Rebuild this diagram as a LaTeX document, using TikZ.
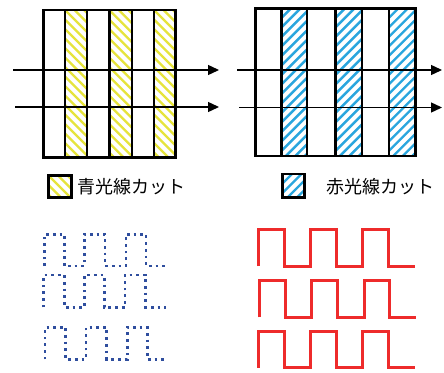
\documentclass[tikz,border=0pt]{standalone}
\usepackage{fontspec}
\newfontfamily\jpfont{Noto Sans CJK JP}
\usetikzlibrary{arrows.meta}
\definecolor{hatchyellow}{HTML}{E6E43C}
\definecolor{hatchblue}{HTML}{2AA6DE}
\definecolor{wavblue}{HTML}{2F4E9E}
\definecolor{wavred}{HTML}{EE2B2B}
\tikzset{
  frame/.style={draw=black, line width=2.4pt},
  hatchline/.style={line width=2.4pt},
  beam/.style={draw=black, line width=1.4pt, -{Triangle[length=11pt, width=10pt]}},
  bluewave/.style={draw=wavblue, line width=2.7pt, dash pattern=on 2.7pt off 4pt},
  redwave/.style={draw=wavred, line width=3pt},
  legendtext/.style={font=\jpfont\fontsize{18pt}{20pt}\selectfont, anchor=west, inner sep=0pt}
}
% hatched strip: #1 colour, #2 slope (+1 falling to the right, -1 rising), corners (#3,#4)-(#5,#6)
\newcommand\hatchstrip[6]{%
  \begin{scope}
    \clip (#3,#4) rectangle (#5,#6);
    \foreach \k in {-20,...,20}
      \draw[hatchline, draw=#1] ({#3+\k*9.5-200},{#4-#2*200}) -- ({#3+\k*9.5+200},{#4+#2*200});
  \end{scope}}
\begin{document}
\begin{tikzpicture}[x=1pt, y=-1pt]
\useasboundingbox (0,0) rectangle (444,372);
\fill[white] (0,0) rectangle (444,372);

% ---- blue-light cut filter (left) ----
\foreach \a/\b in {65/86.7, 109.3/131.7, 154/175.3}
  \hatchstrip{hatchyellow}{1}{\a}{10}{\b}{157.5};
\foreach \a/\b in {43.3/65, 65/86.7, 86.7/109.3, 109.3/131.7, 131.7/154, 154/175.3}
  \draw[frame] (\a,10) rectangle (\b,157.5);

% ---- red-light cut filter (right) ----
\foreach \a/\b in {281.3/307, 335.3/362, 388.7/415.3}
  \hatchstrip{hatchblue}{-1}{\a}{8.5}{\b}{156};
\foreach \a/\b in {255.3/281.3, 281.3/307, 307/335.3, 335.3/362, 362/388.7, 388.7/415.3}
  \draw[frame] (\a,8.5) rectangle (\b,156);

% ---- light beams ----
\coordinate (l1s) at (13,70);   \coordinate (l1e) at (219,70);
\coordinate (l2s) at (15,107);  \coordinate (l2e) at (219,107);
\coordinate (r1s) at (237,70);  \coordinate (r1e) at (442,70);
\coordinate (r2s) at (239,107.5); \coordinate (r2e) at (442,107.5);
\draw[beam] (l1s) -- (l1e);
\draw[beam] (l2s) -- (l2e);
\draw[beam] (r1s) -- (r1e);
\draw[beam] (r2s) -- (r2e);

% ---- legend ----
\hatchstrip{hatchyellow}{1}{48.5}{175.5}{71.5}{197.5}
\draw[black, line width=2.4pt] (48.5,175.5) rectangle (71.5,197.5);
\node[legendtext] (lblblue) at (77,187) {青光線カット};
\hatchstrip{hatchblue}{-1}{282.5}{174}{304.5}{197.5}
\draw[black, line width=2.4pt] (282.5,174) rectangle (304.5,197.5);
\node[legendtext] (lblred) at (326,187) {赤光線カット};

% ---- weakened signals (dotted) ----
\draw[bluewave] (44.3,266) -- (44.3,234.3) -- (64.3,234.3) -- (64.3,266) -- (84.3,266)
  -- (84.3,234.3) -- (105,234.3) -- (105,266) -- (126,266) -- (126,234.3)
  -- (146,234.3) -- (146,266) -- (166.7,266);
\draw[bluewave] (43.3,307.3) -- (43.3,275) -- (64.3,275) -- (64.3,307.3) -- (84.3,307.3)
  -- (84.3,275) -- (104.3,275) -- (104.3,307.3) -- (125,307.3) -- (125,275)
  -- (145.7,275) -- (145.7,307.3) -- (165.7,307.3);
\draw[bluewave] (45,359.3) -- (45,327.3) -- (65.7,327.3) -- (65.7,359.3) -- (86,359.3)
  -- (86,327.3) -- (106.7,327.3) -- (106.7,359.3) -- (127.3,359.3) -- (127.3,327.3)
  -- (147.3,327.3) -- (147.3,359.3) -- (166.7,359.3);

% ---- passed signals (solid) ----
\draw[redwave] (258.7,266) -- (258.7,229.3) -- (284.3,229.3) -- (284.3,266) -- (310.3,266)
  -- (310.3,229.3) -- (336.3,229.3) -- (336.3,266) -- (362.7,266) -- (362.7,229.3)
  -- (388.7,229.3) -- (388.7,266) -- (415.3,266);
\draw[redwave] (259.7,317.3) -- (259.7,280) -- (285.3,280) -- (285.3,317.3) -- (311.3,317.3)
  -- (311.3,280) -- (337,280) -- (337,317.3) -- (364.7,317.3) -- (364.7,280)
  -- (389.3,280) -- (389.3,317.3) -- (416.3,317.3);
\draw[redwave] (258.7,367.7) -- (258.7,331.7) -- (284.3,331.7) -- (284.3,367.7) -- (310.3,367.7)
  -- (310.3,331.7) -- (336.3,331.7) -- (336.3,367.7) -- (362.7,367.7) -- (362.7,331.7)
  -- (388.7,331.7) -- (388.7,367.7) -- (415.3,367.7);
\end{tikzpicture}
\end{document}
